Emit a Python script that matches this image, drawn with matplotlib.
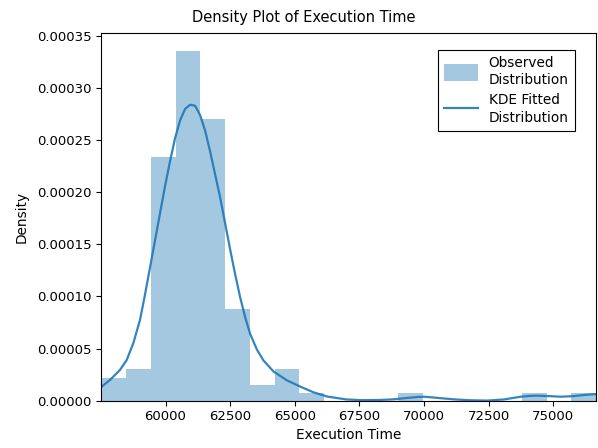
import numpy as np
import matplotlib
matplotlib.use("Agg")
from matplotlib import pyplot as plt

# execution time range covered by the histogram (20 equal bins)
time_min = 57520
time_max = 76660
n_bins = 20

# density of each bin
bin_density = [2.2e-5, 3.0e-5, 2.34e-4, 3.36e-4, 2.70e-4,
               8.8e-5, 1.5e-5, 3.0e-5, 7.5e-6, 0.0,
               0.0, 0.0, 7.5e-6, 0.0, 0.0,
               0.0, 0.0, 7.5e-6, 0.0, 7.5e-6]

# fitted KDE curve
kde_x = [57528, 57849, 58237, 58497, 58753, 59012, 59206, 59400, 59594, 59787,
         59981, 60175, 60369, 60563, 60756, 60950, 61144, 61338, 61532, 61726,
         61919, 62113, 62307, 62501, 62695, 62889, 63082, 63276, 63536, 63792,
         64179, 64699, 65215, 65729, 66249, 67000, 67600, 68300, 68830, 69300,
         69737, 70000, 70253, 70700, 71156, 71800, 72450, 73100, 73741, 74100,
         74388, 74850, 75291, 75800, 76326, 76660]
kde_y = [1.35e-5, 1.99e-5, 2.95e-5, 3.91e-5, 5.52e-5, 7.76e-5, 1.02e-4, 1.28e-4, 1.54e-4, 1.80e-4,
         2.06e-4, 2.30e-4, 2.52e-4, 2.69e-4, 2.80e-4, 2.84e-4, 2.83e-4, 2.74e-4, 2.59e-4, 2.39e-4,
         2.17e-4, 1.95e-4, 1.70e-4, 1.45e-4, 1.21e-4, 9.9e-5, 8.0e-5, 6.4e-5, 4.9e-5, 3.85e-5,
         2.8e-5, 1.95e-5, 1.35e-5, 8.0e-6, 4.0e-6, 1.2e-6, 5e-7, 7e-7, 1.3e-6, 2.5e-6,
         3.5e-6, 3.8e-6, 3.3e-6, 2.3e-6, 1.3e-6, 4e-7, 1e-7, 1.2e-6, 3.8e-6, 4.6e-6,
         4.8e-6, 4.4e-6, 3.8e-6, 4.4e-6, 5.8e-6, 6.3e-6]

edges = np.linspace(time_min, time_max, n_bins + 1)

fig = plt.figure(figsize=(5.98, 4.48), dpi=100)
ax = fig.add_axes([0.1697, 0.1056, 0.827, 0.8207])

bars = ax.bar(edges[:-1], bin_density, width=np.diff(edges), align="edge",
              color="#1f77b4", alpha=0.4, linewidth=0, label="Observed\nDistribution")
line, = ax.plot(kde_x, kde_y, color="#1f77b4", lw=1.6, alpha=0.9,
                solid_joinstyle="round", label="KDE Fitted\nDistribution")

ax.set_xlim(time_min, time_max)
ax.set_ylim(0, max(bin_density) * 1.05)
ax.set_xticks([60000, 62500, 65000, 67500, 70000, 72500, 75000])
ax.set_yticks(np.arange(0, 0.00036, 0.00005))
ax.yaxis.set_major_formatter(matplotlib.ticker.FormatStrFormatter("%.5f"))
ax.tick_params(labelsize=9.5)

ax.set_xlabel("Execution Time", fontsize=9.8, labelpad=3)
ax.set_ylabel("Density", fontsize=9.8, labelpad=6)
fig.suptitle("Density Plot of Execution Time", x=0.508, y=0.96, va="center", fontsize=10.5)

leg = ax.legend(handles=[bars, line], loc="upper right", bbox_to_anchor=(0.957, 0.954),
                borderaxespad=0, fontsize=9.8, fancybox=False, edgecolor="black",
                framealpha=1, handlelength=2.5, handleheight=1.5, handletextpad=0.75,
                labelspacing=0.45, borderpad=0.45)
leg.get_frame().set_linewidth(0.8)
for t in leg.get_texts():
    t.set_linespacing(1.3)

fig.savefig("out.png", dpi=100)
